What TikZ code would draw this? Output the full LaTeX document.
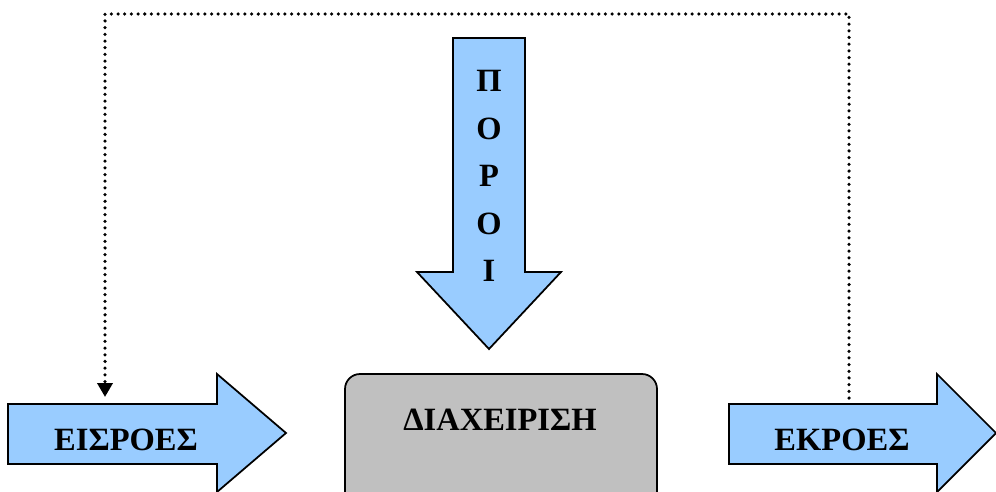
\documentclass[tikz,border=0pt]{standalone}
\usepackage{fontspec}
\setmainfont{Liberation Serif}
\usetikzlibrary{arrows.meta}
\definecolor{arrowblue}{HTML}{99CCFF}
\definecolor{boxgray}{HTML}{C0C0C0}
\begin{document}
\begin{tikzpicture}[x=0.02cm, y=-0.02cm, >={Triangle[length=0.28cm,width=0.3cm]},
    blockarrow/.style={line width=1pt, fill=arrowblue, line join=miter},
    lbl/.style={font=\fontsize{18.5}{27}\selectfont\bfseries, anchor=base},
    feedback/.style={line width=2pt, line cap=round, dash pattern=on 0pt off 3.8pt}]
    \useasboundingbox (0,0) rectangle (996,491);
    \clip (0,0) rectangle (996,491);
    % inputs arrow
    \draw [blockarrow] (8,404) -- (217,404) -- (217,374) -- (286,433)
        -- (217,492) -- (217,464) -- (8,464) -- cycle;
    % outputs arrow
    \draw [blockarrow] (729,404) -- (937,404) -- (937,374) -- (996,433)
        -- (937,492) -- (937,464) -- (729,464) -- cycle;
    % resources arrow
    \draw [blockarrow] (453,38) -- (525,38) -- (525,272) -- (561,272)
        -- (489,349) -- (417,272) -- (453,272) -- cycle;
    % management box
    \draw [line width=1pt, fill=boxgray, rounded corners=0.3cm] (345,374) rectangle (657,530);
    \node [lbl] (in)  at (126,450) {ΕΙΣΡΟΕΣ};
    \node [lbl] (out) at (842,450) {ΕΚΡΟΕΣ};
    \node [lbl] (mgmt) at (500,430) {ΔΙΑΧΕΙΡΙΣΗ};
    \node [lbl, align=center, anchor=center] (res) at (489,176) {Π\\Ο\\Ρ\\Ο\\Ι};
    % feedback loop
    \coordinate (P) at (849,398);
    \coordinate (Q) at (105,397);
    \draw [feedback, ->] (P) |- (105,14) -- (Q);
\end{tikzpicture}
\end{document}
